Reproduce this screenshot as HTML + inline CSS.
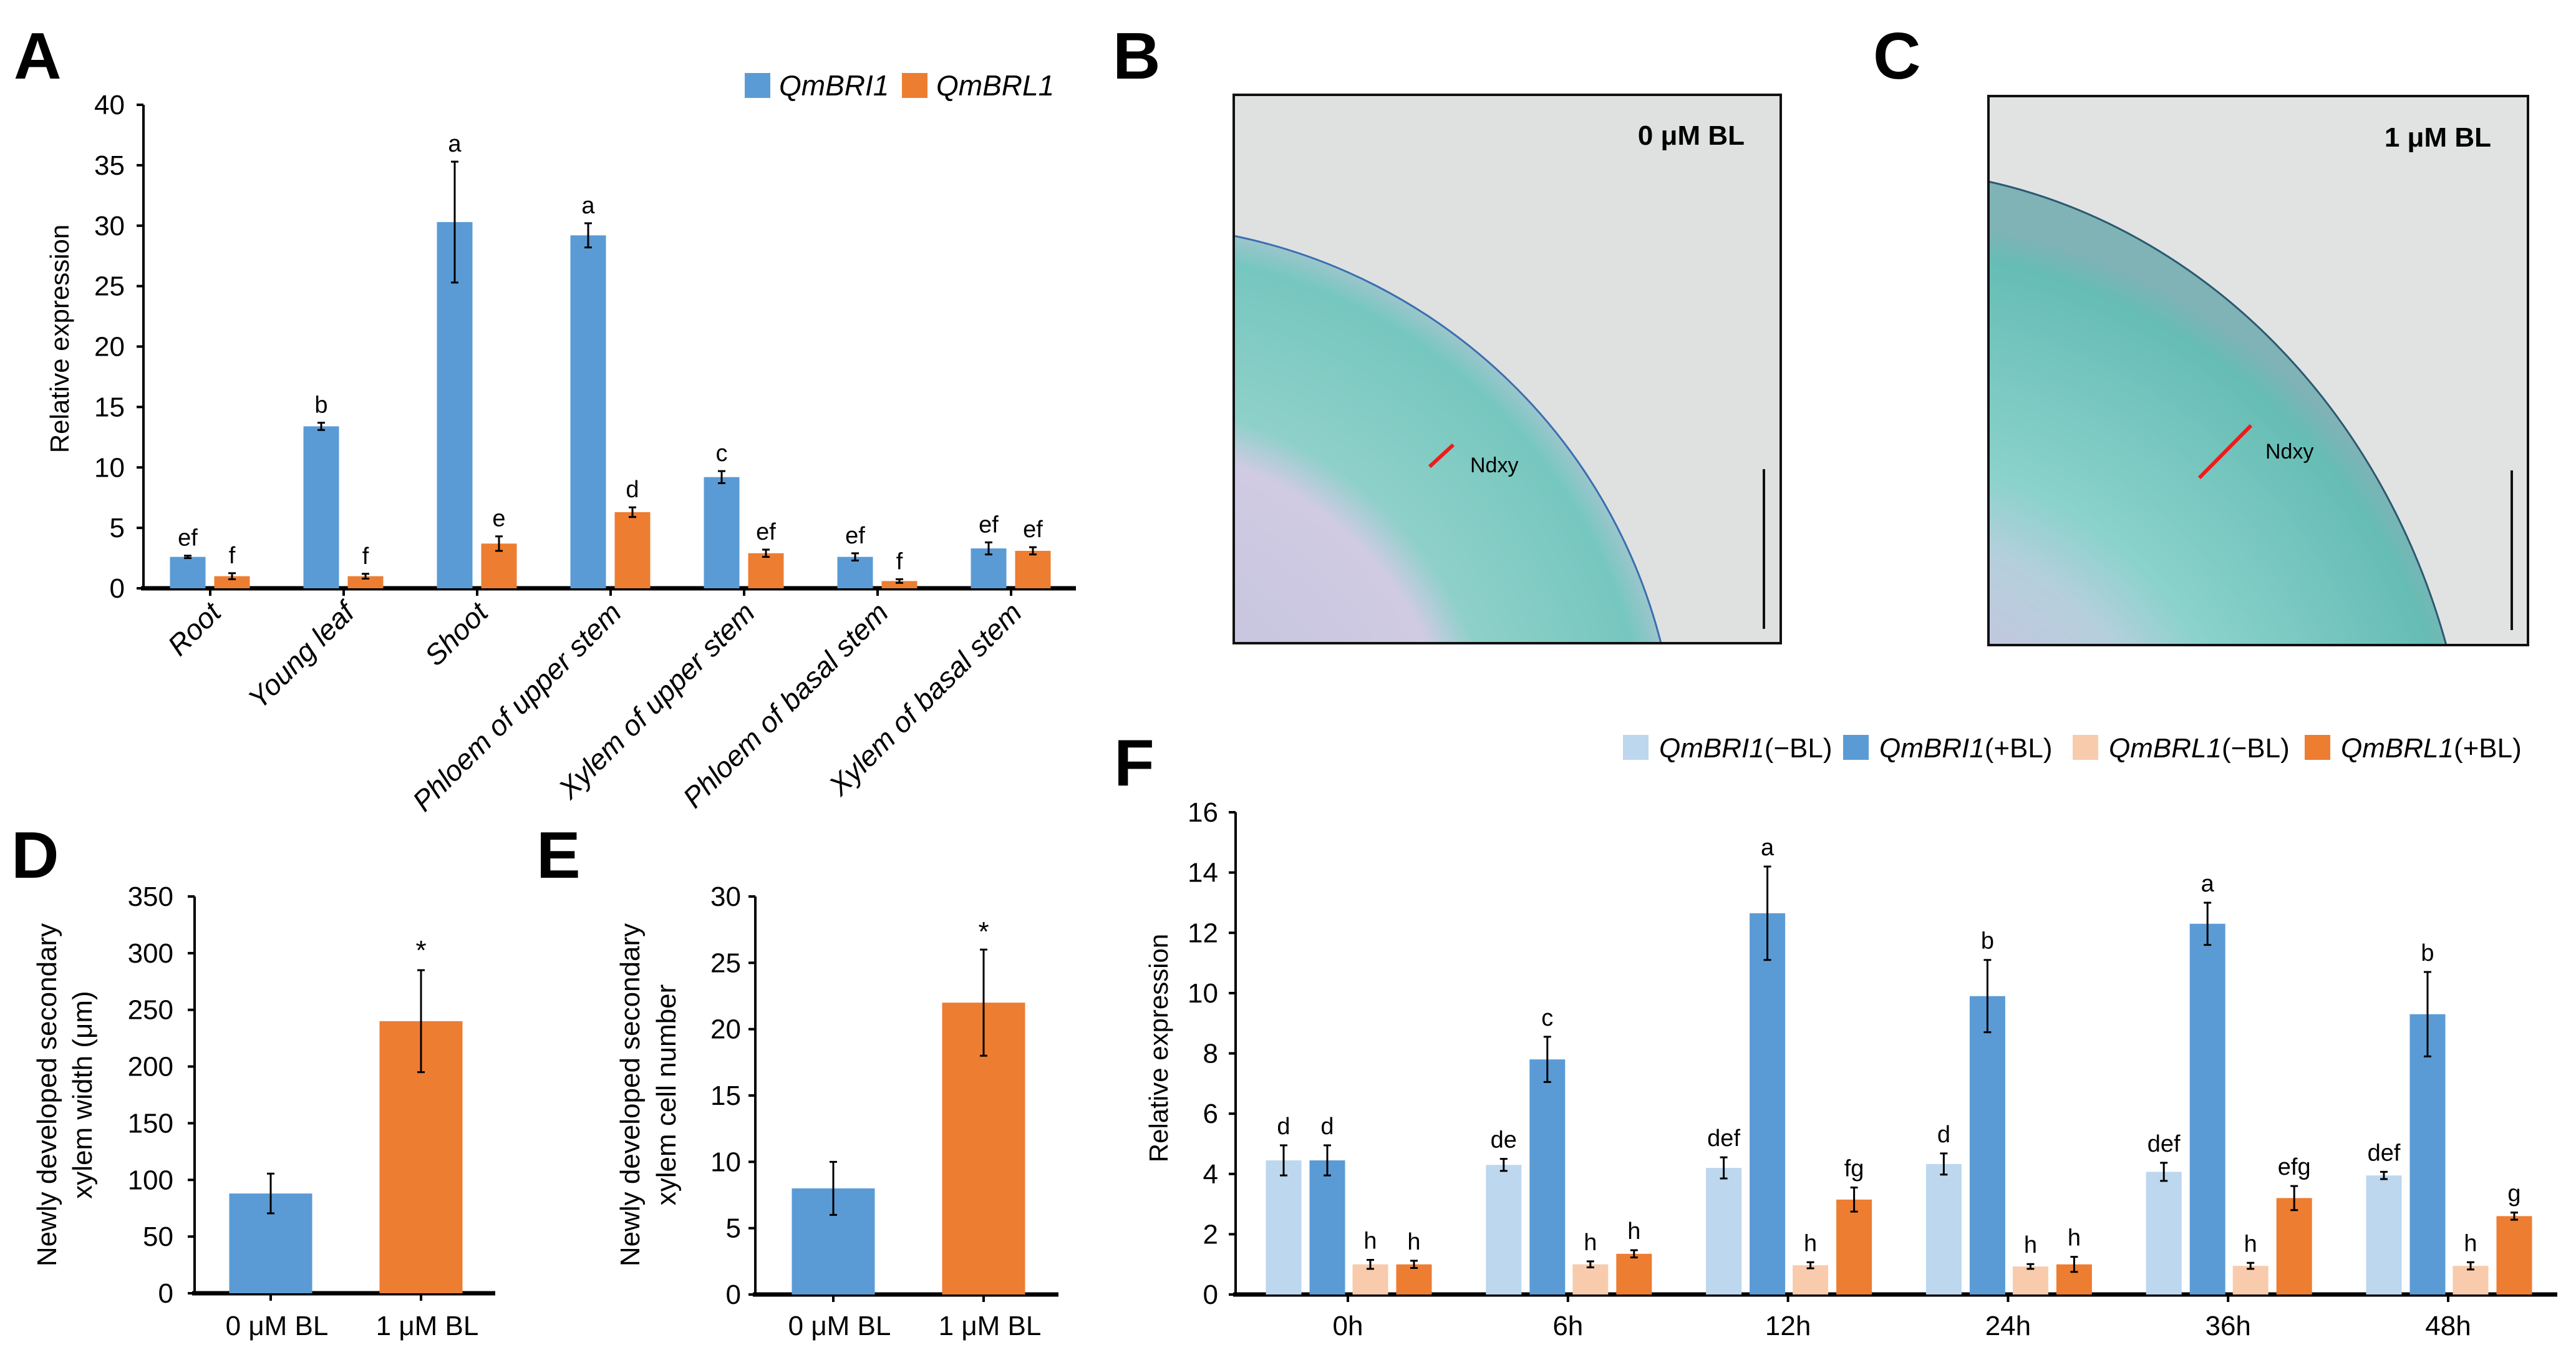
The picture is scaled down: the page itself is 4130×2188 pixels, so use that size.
<!DOCTYPE html>
<html><head><meta charset="utf-8"><style>
html,body{margin:0;padding:0;background:#fff;width:4130px;height:2188px;overflow:hidden}
svg{display:block;position:absolute;left:0;top:0}
text{font-family:"Liberation Sans Narrow","Liberation Sans",sans-serif}
.lbl{font-family:"Liberation Sans",sans-serif;font-weight:bold}
</style></head><body>
<svg id="fig" width="4130" height="2188" viewBox="0 0 4130 2188" xmlns="http://www.w3.org/2000/svg">
<defs>
<radialGradient id="gB" cx="1800" cy="1250" r="890" gradientUnits="userSpaceOnUse">
<stop offset="0" stop-color="#9fd6cf"/><stop offset="0.35" stop-color="#c9c6e0"/><stop offset="0.6" stop-color="#d0cbe3"/><stop offset="0.68" stop-color="#8ed0c9"/><stop offset="0.95" stop-color="#76c7bf"/><stop offset="1" stop-color="#9cc6cc"/></radialGradient>
<radialGradient id="gC" cx="3000" cy="1350" r="1000" gradientUnits="userSpaceOnUse">
<stop offset="0" stop-color="#9ed3cc"/><stop offset="0.3" stop-color="#c8c3e0"/><stop offset="0.5" stop-color="#b5cfdc"/><stop offset="0.62" stop-color="#8ad2cb"/><stop offset="0.95" stop-color="#66bdb5"/><stop offset="1" stop-color="#7fb3b6"/></radialGradient>
</defs>

<text class="lbl" x="22" y="126" font-size="106">A</text>
<text class="lbl" x="1784" y="126" font-size="106">B</text>
<text class="lbl" x="3003" y="126" font-size="106">C</text>
<text class="lbl" x="18" y="1407" font-size="106">D</text>
<text class="lbl" x="860" y="1407" font-size="106">E</text>
<text class="lbl" x="1786" y="1259" font-size="106">F</text>

<g>
<rect x="1978" y="152" width="877" height="879" fill="#dfe1e1" stroke="#111" stroke-width="4"/>
<path d="M1978,378 A890,890 0 0 1 2663,1031 L1978,1031 Z" fill="url(#gB)" stroke="#3a6fb0" stroke-width="3"/>
<rect x="1978" y="152" width="877" height="879" fill="none" stroke="#111" stroke-width="4"/>
<text class="lbl" x="2797" y="232" font-size="44" text-anchor="end">0 μM BL</text>
<line x1="2292" y1="748" x2="2330" y2="713" stroke="#ee1c1c" stroke-width="6"/>
<text x="2357" y="757" font-size="34">Ndxy</text>
<line x1="2828" y1="752" x2="2828" y2="1008" stroke="#111" stroke-width="4"/>
</g>

<g>
<rect x="3188" y="154" width="865" height="880" fill="#e1e3e3" stroke="#111" stroke-width="4"/>
<path d="M3188,291 A965,1085 0 0 1 3922,1034 L3188,1034 Z" fill="url(#gC)" stroke="#2a5a70" stroke-width="3"/>
<rect x="3188" y="154" width="865" height="880" fill="none" stroke="#111" stroke-width="4"/>
<text class="lbl" x="3994" y="235" font-size="44" text-anchor="end">1 μM BL</text>
<line x1="3526" y1="766" x2="3609" y2="682" stroke="#ee1c1c" stroke-width="6"/>
<text x="3632" y="735" font-size="34">Ndxy</text>
<line x1="4027" y1="754" x2="4027" y2="1010" stroke="#111" stroke-width="4"/>
</g>

<g id="chartA"></g>
<g id="chartD"></g>
<g id="chartE"></g>
<g id="chartF"></g>
</svg>

<script>
// ---- Panel A data ----
const aCategories = ["Root","Young leaf","Shoot","Phloem of upper stem","Xylem of upper stem","Phloem of basal stem","Xylem of basal stem"];
const aBri1 = [2.6, 13.4, 30.3, 29.2, 9.2, 2.6, 3.3];
const aBri1Err = [0.1, 0.3, 5.0, 1.0, 0.5, 0.3, 0.5];
const aBri1Letters = ["ef","b","a","a","c","ef","ef"];
const aBrl1 = [1.0, 1.0, 3.7, 6.3, 2.9, 0.6, 3.1];
const aBrl1Err = [0.25, 0.2, 0.6, 0.4, 0.3, 0.15, 0.3];
const aBrl1Letters = ["f","f","e","d","ef","f","ef"];
const aTicks = [0,5,10,15,20,25,30,35,40];

// ---- Panel D data ----
const dCategories = ["0 μM BL","1 μM BL"];
const dValues = [88, 240];
const dErr = [17.5, 45];
const dTicks = [0,50,100,150,200,250,300,350];

// ---- Panel E data ----
const eCategories = ["0 μM BL","1 μM BL"];
const eValues = [8, 22];
const eErr = [2, 4];
const eTicks = [0,5,10,15,20,25,30];

// ---- Panel F data ----
const fCategories = ["0h","6h","12h","24h","36h","48h"];
const fBri1Minus = [4.45, 4.3, 4.2, 4.33, 4.07, 3.95];
const fBri1MinusErr = [0.5, 0.2, 0.35, 0.35, 0.3, 0.12];
const fBri1MinusLetters = ["d","de","def","d","def","def"];
const fBri1Plus = [4.45, 7.8, 12.65, 9.9, 12.3, 9.3];
const fBri1PlusErr = [0.5, 0.75, 1.55, 1.2, 0.7, 1.4];
const fBri1PlusLetters = ["d","c","a","b","a","b"];
const fBrl1Minus = [1.0, 1.0, 0.97, 0.93, 0.95, 0.95];
const fBrl1MinusErr = [0.15, 0.1, 0.1, 0.08, 0.1, 0.12];
const fBrl1MinusLetters = ["h","h","h","h","h","h"];
const fBrl1Plus = [1.0, 1.35, 3.15, 1.0, 3.2, 2.6];
const fBrl1PlusErr = [0.12, 0.12, 0.4, 0.25, 0.4, 0.12];
const fBrl1PlusLetters = ["h","h","fg","h","efg","g"];
const fTicks = [0,2,4,6,8,10,12,14,16];

const NS = "http://www.w3.org/2000/svg";
function mk(parent, tag, attrs, txt){
  const e = document.createElementNS(NS, tag);
  for (const k in attrs) e.setAttribute(k, attrs[k]);
  if (txt !== undefined) e.textContent = txt;
  parent.appendChild(e);
  return e;
}
const BLUE="#5b9bd5", ORANGE="#ed7d31", LBLUE="#bdd7ee", LORANGE="#f8cbad";

function axes(g, o){
  const yS = v => o.y0 - (v / o.vmax) * (o.y0 - o.yTop);
  const yl = mk(g, "line", {x1:o.x0, y1:o.y0, x2:o.x0, y2:o.yTop, stroke:"#000", "stroke-width":4});
  
  
  o.ticks.forEach(t => {
    const tl = mk(g, "line", {x1:o.x0-11, y1:yS(t), x2:o.x0, y2:yS(t), stroke:"#000", "stroke-width":4});
    
    
    const tt = mk(g, "text", {x:o.labelRight, y:yS(t)+15, "font-size":o.fs, "text-anchor":"end"}, String(t));
    
    
  });
  const xl = mk(g, "line", {x1:o.x0-4, y1:o.y0, x2:o.x1, y2:o.y0, stroke:"#000", "stroke-width":7});
  
  
  return yS;
}
function bar(g, cx, w, v, err, yS, y0, fill, name){
  const r = mk(g, "rect", {x:cx-w/2, y:yS(v), width:w, height:y0-yS(v), fill:fill});
  
  
  const e = mk(g, "path", {d:`M${cx} ${yS(v+err)}V${yS(v-err)}M${cx-6} ${yS(v+err)}H${cx+6}M${cx-6} ${yS(v-err)}H${cx+6}`, stroke:"#000", "stroke-width":3, fill:"none"});
  
  
  return yS(v+err);
}
function letter(g, cx, y, s, fs){
  const t = mk(g, "text", {x:cx, y:y, "font-size":fs, "text-anchor":"middle"}, s);
  
  
}

(function(){
  const g = document.getElementById("chartA");
  const x0=230, x1=1725, y0=943, yTop=168, vmax=40;
  const yS = axes(g, {x0,x1,y0,yTop,vmax,ticks:aTicks,labelRight:200,fs:44});
  const step = 214, first = 337;
  aCategories.forEach((c,i) => {
    const cx = first + i*step;
    const tk = mk(g, "line", {x1:cx, y1:y0, x2:cx, y2:y0+12, stroke:"#000", "stroke-width":4});
    
    
    let top = bar(g, cx-36, 57, aBri1[i], aBri1Err[i], yS, y0, BLUE, 'bar-qmbri1');
    letter(g, cx-36, top-16, aBri1Letters[i], 38);
    top = bar(g, cx+35, 57, aBrl1[i], aBrl1Err[i], yS, y0, ORANGE, 'bar-qmbrl1');
    letter(g, cx+35, top-16, aBrl1Letters[i], 38);
    const t = mk(g, "text", {x:0, y:0, "font-size":46, "font-style":"italic", "text-anchor":"end", "font-family":"Liberation Sans, sans-serif", transform:`translate(${cx+20},${y0+42}) rotate(-45)`}, c);
    
    
  });
  const yt = mk(g, "text", {x:0,y:0,"font-size":42,"text-anchor":"middle","font-family":"Liberation Sans, sans-serif",transform:"translate(110,543) rotate(-90)"}, "Relative expression");
  
  
  const items = [[1194, BLUE, "QmBRI1"], [1446, ORANGE, "QmBRL1"]];
  items.forEach(it => {
    const r = mk(g, "rect", {x:it[0], y:117, width:41, height:40, fill:it[1]});
    
    
    const t = mk(g, "text", {x:it[0]+55, y:153, "font-size":46, "font-style":"italic"}, it[2]);
    
    
  });
})();

function simple(id, o, cats, vals, errs, ticks, titleLines){
  const g = document.getElementById(id);
  const yS = axes(g, {x0:o.x0,x1:o.x1,y0:o.y0,yTop:o.yTop,vmax:o.vmax,ticks:ticks,labelRight:o.lr,fs:44});
  const cols=[BLUE, ORANGE];
  cats.forEach((c,i) => {
    const cx = o.cx[i];
    const tk = mk(g, "line", {x1:cx, y1:o.y0, x2:cx, y2:o.y0+12, stroke:"#000", "stroke-width":4});
    
    
    bar(g, cx, 133, vals[i], errs[i], yS, o.y0, cols[i], 'bar-' + (i ? 'treated' : 'control'));
    const t = mk(g, "text", {x:cx+10, y:2140, "font-size":44, "text-anchor":"middle"}, c);
    
    
  });
  const s = mk(g, "text", {x:o.cx[1], y:o.starY, "font-size":44, "text-anchor":"middle"}, "*");
  
  
  titleLines.forEach((ln,k) => {
    const t = mk(g, "text", {x:0,y:0,"font-size":44,"text-anchor":"middle","font-family":"Liberation Sans, sans-serif",transform:`translate(${o.tx[k]},1755) rotate(-90)`}, ln);
    
    
  });
}
simple("chartD", {x0:312,x1:794,y0:2073,yTop:1437,vmax:350,lr:278,cx:[434,675],starY:1538,tx:[90,147]}, dCategories, dValues, dErr, dTicks, ["Newly developed secondary","xylem width (μm)"]);
simple("chartE", {x0:1211,x1:1697,y0:2075,yTop:1437,vmax:30,lr:1188,cx:[1336,1577],starY:1508,tx:[1025,1083]}, eCategories, eValues, eErr, eTicks, ["Newly developed secondary","xylem cell number"]);

(function(){
  const g = document.getElementById("chartF");
  const x0=1981, x1=4100, y0=2075, yTop=1302, vmax=16;
  const yS = axes(g, {x0,x1,y0,yTop,vmax,ticks:fTicks,labelRight:1953,fs:44});
  const series = [[fBri1Minus,fBri1MinusErr,fBri1MinusLetters,LBLUE,'bar-qmbri1-minus-bl'],
                  [fBri1Plus,fBri1PlusErr,fBri1PlusLetters,BLUE,'bar-qmbri1-plus-bl'],
                  [fBrl1Minus,fBrl1MinusErr,fBrl1MinusLetters,LORANGE,'bar-qmbrl1-minus-bl'],
                  [fBrl1Plus,fBrl1PlusErr,fBrl1PlusLetters,ORANGE,'bar-qmbrl1-plus-bl']];
  const offs = [-103,-33,36,106];
  fCategories.forEach((c,i) => {
    const cx = 2161 + i*352.8;
    const tk = mk(g, "line", {x1:cx, y1:y0, x2:cx, y2:y0+12, stroke:"#000", "stroke-width":4});
    
    
    series.forEach((s,k) => {
      const top = bar(g, cx+offs[k], 57, s[0][i], s[1][i], yS, y0, s[3], s[4]);
      letter(g, cx+offs[k], top-18, s[2][i], 38);
    });
    const t = mk(g, "text", {x:cx, y:2140, "font-size":44, "text-anchor":"middle"}, c);
    
    
  });
  const yt = mk(g, "text", {x:0,y:0,"font-size":42,"text-anchor":"middle","font-family":"Liberation Sans, sans-serif",transform:"translate(1872,1680) rotate(-90)"}, "Relative expression");
  
  
  const leg = [[2602,LBLUE,"QmBRI1","(−BL)"],[2955,BLUE,"QmBRI1","(+BL)"],[3323,LORANGE,"QmBRL1","(−BL)"],[3695,ORANGE,"QmBRL1","(+BL)"]];
  leg.forEach(it => {
    const r = mk(g, "rect", {x:it[0], y:1178, width:41, height:40, fill:it[1]});
    
    
    const t = mk(g, "text", {x:it[0]+58, y:1214, "font-size":44});
    
    
    mk(t, "tspan", {"font-style":"italic"}, it[2]);
    mk(t, "tspan", {}, it[3]);
  });
})();
</script>
</body></html>
